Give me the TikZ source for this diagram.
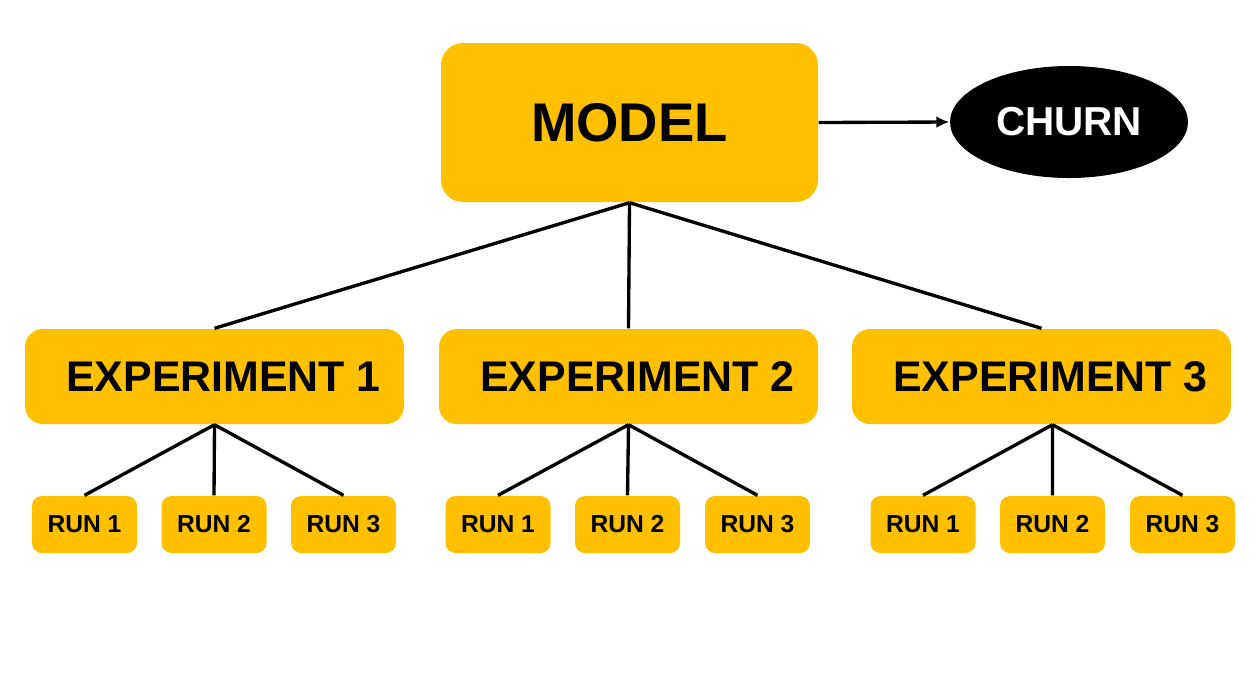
\documentclass[tikz,border=0pt]{standalone}
\usepackage{fontspec}
\setmainfont{Liberation Sans}
\usepackage{tikz}
\usetikzlibrary{arrows.meta,positioning,calc,shapes.geometric}

\definecolor{amber}{RGB}{255,192,0}

\tikzset{
    modelbox/.style={rectangle,rounded corners=2.2mm,fill=amber,minimum width=3.77cm,minimum height=1.59cm,inner sep=0pt,font=\fontsize{15.5}{18}\selectfont\bfseries},
    expbox/.style={rectangle,rounded corners=1.8mm,fill=amber,minimum width=3.79cm,minimum height=0.95cm,inner sep=0pt,font=\fontsize{12.2}{15}\selectfont\bfseries},
    runbox/.style={rectangle,rounded corners=1mm,fill=amber,minimum width=1.05cm,minimum height=0.57cm,inner sep=0pt,font=\fontsize{7}{8}\selectfont\bfseries},
    target/.style={ellipse,fill=black,text=white,minimum width=2.38cm,minimum height=1.12cm,inner sep=0pt,font=\fontsize{11.5}{14}\selectfont\bfseries},
    link/.style={line width=0.95pt}
}

\begin{document}
\begin{tikzpicture}
        \useasboundingbox (0,0) rectangle (12.57,6.74);

        % Model and target
        \node[modelbox] (model) at (6.295,5.515) {MODEL};
        \node[target] (churn) at (10.69,5.52) {CHURN};

        % Experiments
        \node[expbox] (exp1) at (2.145,2.975) {\hspace*{0.18cm}EXPERIMENT 1};
        \node[expbox] (exp2) at (6.285,2.975) {\hspace*{0.18cm}EXPERIMENT 2};
        \node[expbox] (exp3) at (10.415,2.975) {\hspace*{0.18cm}EXPERIMENT 3};

        % Runs
        \node[runbox] (run11) at (0.845,1.495) {RUN 1};
        \node[runbox] (run12) at (2.14,1.495) {RUN 2};
        \node[runbox] (run13) at (3.435,1.495) {RUN 3};
        \node[runbox] (run21) at (4.98,1.495) {RUN 1};
        \node[runbox] (run22) at (6.275,1.495) {RUN 2};
        \node[runbox] (run23) at (7.575,1.495) {RUN 3};
        \node[runbox] (run31) at (9.23,1.495) {RUN 1};
        \node[runbox] (run32) at (10.525,1.495) {RUN 2};
        \node[runbox] (run33) at (11.825,1.495) {RUN 3};

        % Hub under experiment 3
        \coordinate (hub3) at ($(exp3.south)+(0.11,0)$);

        % Arrow to target
        \draw[link,-{Latex[length=1.3mm,width=1.2mm]}] (model.east) -- (churn.west);

        % Model to experiments
        \draw[link] (model.south) -- (exp1.north);
        \draw[link] (model.south) -- (exp2.north);
        \draw[link] (model.south) -- (exp3.north);

        % Experiments to runs
        \draw[link] (exp1.south) -- (run11.north);
        \draw[link] (exp1.south) -- (run12.north);
        \draw[link] (exp1.south) -- (run13.north);
        \draw[link] (exp2.south) -- (run21.north);
        \draw[link] (exp2.south) -- (run22.north);
        \draw[link] (exp2.south) -- (run23.north);
        \draw[link] (hub3) -- (run31.north);
        \draw[link] (hub3) -- (run32.north);
        \draw[link] (hub3) -- (run33.north);
    \end{tikzpicture}
\end{document}
